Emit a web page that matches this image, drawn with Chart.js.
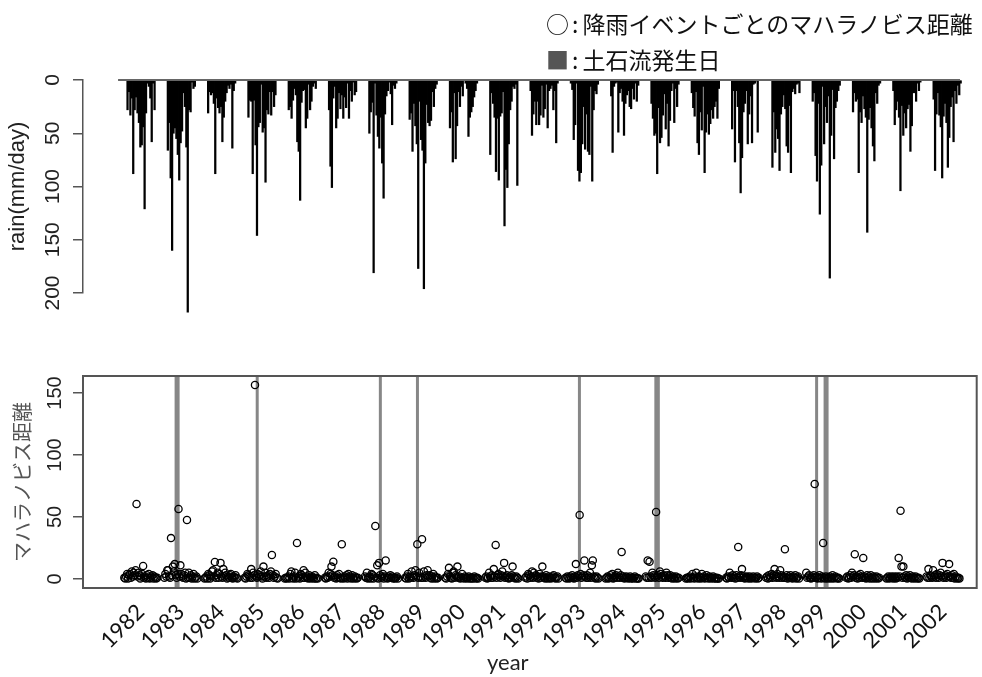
<!DOCTYPE html>
<html>
<head>
<meta charset="utf-8">
<script src="https://cdn.jsdelivr.net/npm/chart.js@4.4.1/dist/chart.umd.min.js"></script>
<style>
  body { margin:0; background:#fff; width:982px; height:677px; position:relative; overflow:hidden; }
  #topWrap { position:absolute; left:0; top:0; width:982px; height:330px; }
  #botWrap { position:absolute; left:0; top:340px; width:982px; height:337px; }
  .legend { position:absolute; left:546px; font-family:"Noto Sans CJK JP"; font-size:23px; color:#111; white-space:nowrap; line-height:30px; }
  .legend .sq { color:#555; }
  .legend .colon { margin:0 4px 0 3px; }
  #xlabel { position:absolute; left:487px; top:648px; font-family:Lato, "Open Sans"; font-size:22px; color:#222; }
</style>
</head>
<body>
<div id="topWrap"><canvas id="rainChart" width="982" height="330"></canvas></div>
<div id="botWrap"><canvas id="distChart" width="982" height="337"></canvas></div>
<div class="legend" style="top:8px">○<span class="colon">:</span>降雨イベントごとのマハラノビス距離</div>
<div class="legend" style="top:44px"><span class="sq">■</span><span class="colon">:</span>土石流発生日</div>
<div id="xlabel">year</div>
<script>
const years = [1982, 1983, 1984, 1985, 1986, 1987, 1988, 1989, 1990, 1991, 1992,
  1993, 1994, 1995, 1996, 1997, 1998, 1999, 2000, 2001, 2002];

// daily rain (mm/day) during each year's rainy season
const rain1982 = [28, 11, 33, 17, 88, 28, 16, 31, 40, 63, 61, 44, 121, 31, 3, 6, 17, 58, 3, 28];
const rain1983 = [66, 40, 92, 160, 50, 45, 55, 70, 94, 59, 48, 12, 25, 63, 218, 28, 30, 2, 8, 6];
const rain1984 = [31, 11, 14, 12, 22, 88, 17, 26, 31, 25, 58, 35, 20, 12, 5, 8, 4, 64, 10, 3];
const rain1985 = [35, 19, 20, 88, 19, 61, 146, 44, 40, 4, 49, 45, 96, 28, 32, 11, 33, 11, 25, 14];
const rain1986 = [28, 25, 36, 19, 8, 14, 58, 67, 113, 21, 10, 9, 45, 36, 4, 28, 20, 6, 3, 8];
const rain1987 = [28, 81, 101, 17, 6, 45, 36, 12, 27, 14, 36, 16, 26, 3, 36, 10, 20, 2, 14, 11];
const rain1988 = [50, 30, 21, 181, 3, 33, 53, 64, 35, 78, 111, 32, 15, 10, 2, 13, 42, 5, 8, 3];
const rain1989 = [37, 31, 67, 22, 43, 60, 177, 20, 56, 66, 196, 78, 23, 40, 43, 38, 11, 25, 8, 4];
const rain1990 = [45, 30, 77, 12, 74, 43, 11, 25, 6, 15, 0, 3, 8, 53, 35, 30, 25, 16, 10, 3];
const rain1991 = [70, 12, 22, 35, 86, 36, 94, 34, 31, 11, 137, 84, 101, 60, 28, 20, 6, 8, 4, 99];
const rain1992 = [10, 52, 32, 20, 42, 20, 42, 33, 5, 35, 27, 4, 45, 10, 8, 5, 28, 10, 59, 3];
const rain1993 = [3, 9, 56, 42, 3, 85, 95, 87, 60, 25, 65, 32, 67, 70, 6, 95, 28, 10, 13, 4];
const rain1994 = [15, 68, 6, 3, 2, 49, 12, 8, 20, 52, 22, 14, 10, 25, 27, 8, 18, 3, 20, 5];
const rain1995 = [22, 36, 52, 50, 88, 26, 59, 54, 33, 13, 46, 22, 62, 38, 10, 3, 40, 8, 25, 4];
const rain1996 = [12, 26, 34, 11, 59, 70, 30, 47, 6, 87, 49, 32, 51, 41, 28, 36, 25, 20, 36, 8];
const rain1997 = [46, 10, 77, 10, 25, 59, 106, 73, 30, 22, 10, 60, 32, 15, 59, 4, 3, 1, 49, 0];
const rain1998 = [82, 30, 68, 46, 55, 85, 32, 25, 14, 27, 62, 68, 24, 87, 11, 8, 13, 4, 3, 12];
const rain1999 = [20, 12, 71, 95, 22, 126, 80, 6, 60, 25, 40, 15, 186, 52, 9, 74, 26, 20, 10, 5];
const rain2000 = [30, 12, 20, 18, 87, 30, 40, 15, 27, 35, 143, 37, 26, 45, 62, 76, 12, 22, 5, 3];
const rain2001 = [10, 42, 28, 20, 35, 104, 24, 52, 31, 45, 27, 23, 67, 43, 12, 12, 20, 3, 10, 2];
const rain2002 = [18, 85, 32, 12, 33, 44, 92, 34, 22, 40, 82, 54, 25, 16, 58, 10, 22, 5, 14, 3];

// mahalanobis distance of each rain event
const dist1982 = [1,0.5,2,4,0.5,3,4,1,6,2,5,3,7,60.5,2,5,3,0.5,2,4,10.5,1,2,0.5,3,1,4,0.5,1,2,3,0.5,2,1,0.5,1];
const dist1983 = [1,4,2,7,7,2,1,33,3,10,6,12,3,1,4,56.5,2,11,4,2,1,3,5,0.5,47.6,1,5,1,3,0.5,2,4,0.5,1,2,0.5];
const dist1984 = [0.5,1,2,0.5,4,3,0.5,2,6,7,2,13.7,1,3,5,1,4,13,2,1,8,2,5,3,0.5,2,1,3,4,1,0.5,2,1,3,1,0.5];
const dist1985 = [1,0.5,2,4,3,2,1,8,1,5,3,156.5,2,1,4,2,3,6,2,0.5,10,2,5,1,2,3,1,4,6,19.4,3,1,2,4,1,0.5];
const dist1986 = [0.5,1,0.5,1,2,0.5,4,6,1,0.5,2,5,0.5,29,1,2,0.5,4,3,1,7,1,5,2,1,0.5,3,1,0.5,2,1,0.5,3,0.5,1,0.5];
const dist1987 = [1,0.5,2,1,5,2,4,10,3,14,1,2,0.5,3,1,4,1,0.5,28,1,0.5,2,1,3,0.5,4,2,1,0.5,3,1,0.5,2,1,0.5,1];
const dist1988 = [2,1,5,0.5,1,2,0.5,4,3,0.5,2,42.7,1,11,0.5,13,3,1,2,4,0.5,2,15,1,0.5,2,1,3,1,2,0.5,1,0.5,1,2,0.5];
const dist1989 = [1,0.5,2,4,0.5,2,1,6,2,1,3,7,2,28,1,5,2,1,32,1,6,2,1,3,7,2,3,1,0.5,2,4,0.5,2,1,0.5,1];
const dist1990 = [1,0.5,2,4,9,2,1,0.5,5,6,1,3,2,10,1,2,0.5,1,4,1,0.5,2,1,0.5,1,2,0.5,1,0.5,1,0.5,2,1,0.5,1,0.5];
const dist1991 = [1,2,0.5,1,5,2,1,3,1,8,2,27.5,1,3,4,2,1,3,6,2,13,1,2,3,1,0.5,2,1,3,10,2,1,0.5,2,1,0.5];
const dist1992 = [1,2,0.5,4,3,1,2,6,1,5,2,3,1,2,0.5,4,1,2,10,2,1,0.5,3,1,0.5,2,1,0.5,1,2,3,1,0.5,1,2,0.5];
const dist1993 = [1,0.5,2,1,0.5,2,1,3,1,0.5,2,12,1,3,2,51.6,4,1,2,3,15,2,1,3,1,2,5,1,11,15,2,1,0.5,2,1,0.5];
const dist1994 = [0.5,1,2,0.5,1,3,1,4,0.5,1,2,3,1,5,2,1,3,21.8,1,2,0.5,1,2,1,0.5,1,2,0.5,1,0.5,1,2,0.5,1,0.5,0.5];
const dist1995 = [2,1,15,1,14,2,1,5,3,2,1,54,2,3,1,6,4,2,1,3,2,1,5,3,1,2,3,1,0.5,2,1,0.5,2,1,0.5,1];
const dist1996 = [0.5,1,0.5,1,2,0.5,1,4,1,0.5,2,5,1,0.5,2,1,0.5,4,1,2,0.5,1,3,1,0.5,2,1,0.5,1,2,0.5,1,0.5,1,0.5,0.5];
const dist1997 = [1,0.5,2,1,5,2,1,3,1,2,0.5,3,1,25.8,2,1,3,8,1,2,0.5,1,2,1,0.5,2,1,0.5,1,2,1,0.5,1,2,0.5,1];
const dist1998 = [1,2,0.5,3,1,2,4,1,3,8,2,1,4,2,1,7,3,1,2,1,24,1,3,0.5,2,1,3,1,0.5,2,1,3,0.5,1,2,0.5];
const dist1999 = [5,1,2,3,1,0.5,2,1,3,76.6,1,2,0.5,1,3,1,0.5,2,29,1,0.5,2,1,0.5,1,2,0.5,1,3,0.5,1,2,1,0.5,1,0.5];
const dist2000 = [1,2,0.5,1,3,1,5,2,3,20,1,2,0.5,3,1,4,2,1,17,2,1,0.5,3,1,2,0.5,3,1,0.5,2,1,0.5,2,1,0.5,1];
const dist2001 = [0.5,1,2,0.5,1,2,1,0.5,2,1,0.5,2,1,17,2,55,10,1,10,2,1,3,0.5,2,1,3,1,0.5,2,1,0.5,2,1,0.5,1,0.5];
const dist2002 = [2,1,8,1,3,2,1,7,2,3,1,4,2,1,3,5,2,13,1,2,3,1,4,2,12,2,1,3,1,4,0.5,2,1,0.5,1,0.5];

// debris flow dates (decimal year)
const debrisDates = [1982.881, 1982.931, 1984.903, 1987.973, 1988.898, 1992.936,
  1994.841, 1994.903, 1998.849, 1999.060, 1999.110];

const rainTicks = [0, 50, 100, 150, 200];
const distTicks = [0, 50, 100, 150];
const xMin = 1980.56, xMax = 2002.84;
const distMin = -7.26, distMax = 163.7;
const baselineX = [1981.43, 2002.32];

const rainByYear = [rain1982, rain1983, rain1984, rain1985, rain1986, rain1987, rain1988,
  rain1989, rain1990, rain1991, rain1992, rain1993, rain1994, rain1995, rain1996, rain1997,
  rain1998, rain1999, rain2000, rain2001, rain2002];
const distByYear = [dist1982, dist1983, dist1984, dist1985, dist1986, dist1987, dist1988,
  dist1989, dist1990, dist1991, dist1992, dist1993, dist1994, dist1995, dist1996, dist1997,
  dist1998, dist1999, dist2000, dist2001, dist2002];

const rainPoints = [];
years.forEach((yr, k) => {
  rainByYear[k].forEach((v, i) => rainPoints.push({ x: yr - 0.335 + i * 0.0353, y: v }));
});

const distPoints = [];
years.forEach((yr, k) => {
  const n = distByYear[k].length;
  distByYear[k].forEach((v, i) => distPoints.push({ x: yr - 0.41 + i * 0.82 / (n - 1), y: v }));
});

const debrisLines = [];
debrisDates.forEach(d => {
  debrisLines.push({ x: d, y: distMin }, { x: d, y: distMax }, { x: d, y: null });
});

const axisGrey = '#555';

// rain chart (top)
new Chart(document.getElementById('rainChart'), {
  type: 'bar',
  data: {
    datasets: [
      {
        type: 'line',
        data: [{ x: baselineX[0], y: 0 }, { x: baselineX[1], y: 0 }],
        borderColor: '#666',
        borderWidth: 2,
        pointRadius: 0,
        clip: false
      },
      {
        data: rainPoints,
        backgroundColor: '#000',
        barThickness: 1.6,
        clip: false
      }
    ]
  },
  options: {
    responsive: false,
    animation: false,
    layout: { padding: { top: 80, bottom: 37, right: 1, left: 0 } },
    plugins: { legend: { display: false }, tooltip: { enabled: false } },
    scales: {
      x: { type: 'linear', min: xMin, max: xMax, offset: false, display: false },
      y: {
        reverse: true,
        min: 0,
        max: 200,
        afterFit: s => { s.width = 83; },
        afterBuildTicks: s => { s.ticks = rainTicks.map(v => ({ value: v })); },
        grid: { drawOnChartArea: false, drawTicks: true, tickLength: 10, color: axisGrey, lineWidth: 1.5 },
        border: { display: true, color: axisGrey, width: 1.5 },
        ticks: {
          minRotation: 90, maxRotation: 90, crossAlign: 'center', padding: 2,
          color: '#222', font: { family: 'Liberation Sans', size: 21 }
        },
        title: {
          display: true, text: 'rain(mm/day)', color: '#222',
          font: { family: 'Liberation Sans', size: 22 }, padding: { top: 5, bottom: 0 }
        }
      }
    }
  }
});

// box around the lower plot
const boxPlugin = {
  id: 'box',
  afterDraw(chart) {
    const a = chart.chartArea;
    const ctx = chart.ctx;
    ctx.save();
    ctx.strokeStyle = axisGrey;
    ctx.lineWidth = 2;
    ctx.strokeRect(a.left, a.top, a.right - a.left, a.bottom - a.top);
    ctx.restore();
  }
};

// distance chart (bottom)
new Chart(document.getElementById('distChart'), {
  type: 'scatter',
  data: {
    datasets: [
      {
        type: 'line',
        data: debrisLines,
        borderColor: 'rgba(105,105,105,0.8)',
        borderWidth: 3,
        pointRadius: 0,
        spanGaps: false,
        order: 2
      },
      {
        data: distPoints,
        pointStyle: 'circle',
        pointRadius: 3.6,
        borderColor: '#000',
        borderWidth: 1.3,
        backgroundColor: 'rgba(0,0,0,0)',
        order: 1
      }
    ]
  },
  options: {
    responsive: false,
    animation: false,
    layout: { padding: { top: 36, bottom: 0, right: 1, left: 0 } },
    plugins: { legend: { display: false }, tooltip: { enabled: false } },
    scales: {
      x: {
        type: 'linear', min: xMin, max: xMax,
        afterFit: s => { s.height = 89; },
        afterBuildTicks: s => { s.ticks = years.map(v => ({ value: v })); },
        grid: { display: false, drawTicks: false },
        border: { display: false },
        ticks: {
          autoSkip: false, minRotation: 45, maxRotation: 45, padding: 11,
          color: '#111', font: { family: 'Lato', size: 22 },
          callback: v => String(v)
        }
      },
      y: {
        min: distMin,
        max: distMax,
        afterFit: s => { s.width = 83; },
        afterBuildTicks: s => { s.ticks = distTicks.map(v => ({ value: v })); },
        grid: { drawOnChartArea: false, drawTicks: true, tickLength: 10, color: axisGrey, lineWidth: 1.5 },
        border: { display: false },
        ticks: {
          minRotation: 90, maxRotation: 90, crossAlign: 'center', padding: 1,
          color: '#222', font: { family: 'Liberation Sans', size: 20 }
        },
        title: {
          display: true, text: 'マハラノビス距離', color: '#555',
          font: { family: 'Noto Sans CJK JP', size: 20 }, padding: { top: 10, bottom: 0 }
        }
      }
    }
  },
  plugins: [boxPlugin]
});
</script>
</body>
</html>
